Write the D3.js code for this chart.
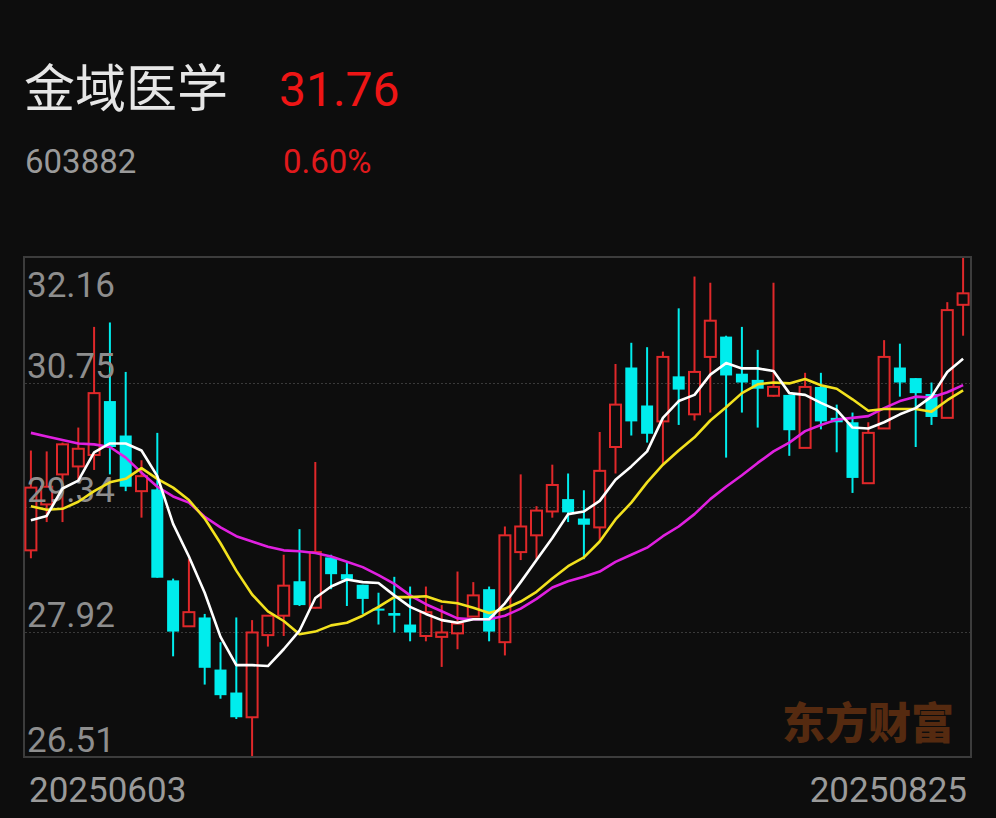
<!DOCTYPE html>
<html><head><meta charset="utf-8">
<script src="https://cdn.jsdelivr.net/npm/d3@7/dist/d3.min.js"></script>
<style>html,body{margin:0;padding:0;background:#0d0d0d;overflow:hidden}svg{display:block}</style>
</head><body>
<script>
// ---- data ----
const stockName = "金域医学";
const stockCode = "603882";
const lastPrice = "31.76";
const changePct = "0.60%";

const dates = [
  "20250603","20250604","20250605","20250606","20250609","20250610","20250611","20250612","20250613","20250616",
  "20250617","20250618","20250619","20250620","20250623","20250624","20250625","20250626","20250627","20250630",
  "20250701","20250702","20250703","20250704","20250707","20250708","20250709","20250710","20250711","20250714",
  "20250715","20250716","20250717","20250718","20250721","20250722","20250723","20250724","20250725","20250728",
  "20250729","20250730","20250731","20250801","20250804","20250805","20250806","20250807","20250808","20250811",
  "20250812","20250813","20250814","20250815","20250818","20250819","20250820","20250821","20250822","20250825"
];
const open = [
  28.85,29.37,29.71,29.80,29.93,30.54,30.15,29.52,29.54,28.51,
  27.99,28.09,27.50,27.24,26.96,27.89,28.11,28.50,28.20,28.77,
  28.58,28.46,28.19,28.14,28.01,27.88,27.87,27.91,28.10,28.41,
  27.81,28.83,29.02,29.29,29.43,29.21,29.11,30.02,30.92,30.49,
  30.31,30.82,30.39,31.04,31.27,30.85,30.78,30.60,30.61,30.01,
  30.70,30.35,30.30,29.61,30.23,30.92,30.80,30.62,30.35,31.63
];
const close = [
  29.56,29.57,30.05,30.00,30.63,30.02,29.57,29.69,28.54,27.93,
  28.15,27.52,27.21,26.96,27.92,28.11,28.45,28.23,28.83,28.58,
  28.52,28.30,28.17,28.11,27.92,28.15,27.92,28.02,28.34,27.93,
  29.02,29.12,29.30,29.59,29.28,29.14,29.75,30.50,30.31,30.17,
  31.04,30.67,30.87,31.45,30.83,30.75,30.68,30.70,30.21,30.70,
  30.31,30.30,29.67,30.18,31.04,30.75,30.63,30.36,31.57,31.76
];
const high = [
  29.98,29.97,30.07,30.24,31.38,31.43,30.87,29.87,30.18,28.53,
  28.75,28.13,27.81,28.09,28.06,28.11,28.80,29.09,29.85,28.80,
  28.71,28.46,28.37,28.55,28.44,28.44,28.23,28.61,28.49,28.44,
  29.12,29.71,29.35,29.82,29.72,29.53,30.19,30.96,31.20,31.15,
  31.10,31.59,31.95,31.88,31.28,31.38,31.12,31.88,30.61,30.86,
  30.86,30.50,30.41,30.30,31.23,31.19,30.80,30.75,31.66,32.16
];
const low = [
  28.76,29.17,29.17,29.62,29.76,29.71,29.52,29.22,28.54,27.65,
  27.99,27.33,27.17,26.94,26.52,27.76,27.88,28.22,28.19,28.41,
  28.22,28.13,28.01,27.92,27.82,27.82,27.53,27.73,28.10,27.82,
  27.66,28.74,28.75,29.22,29.17,28.75,28.97,29.72,30.15,30.07,
  29.82,30.27,30.32,30.41,29.90,30.41,30.24,30.59,29.92,30.01,
  30.22,29.96,29.50,29.61,30.23,30.59,30.02,30.27,30.35,31.28
];
const ma5 = [
  29.19,29.24,29.55,29.64,29.96,30.06,30.06,29.98,29.69,29.15,
  28.78,28.37,27.87,27.55,27.55,27.54,27.73,27.94,28.31,28.44,
  28.52,28.49,28.48,28.34,28.21,28.13,28.06,28.03,28.07,28.07,
  28.25,28.49,28.74,28.99,29.26,29.29,29.41,29.65,29.80,29.97,
  30.35,30.54,30.61,30.84,30.97,30.91,30.91,30.88,30.63,30.61,
  30.52,30.44,30.24,30.23,30.30,30.39,30.46,30.59,30.87,31.02
];
const ma10 = [
  29.35,29.31,29.32,29.40,29.52,29.62,29.66,29.78,29.66,29.56,
  29.42,29.21,28.93,28.62,28.35,28.16,28.05,27.90,27.93,28.00,
  28.03,28.11,28.21,28.32,28.32,28.33,28.27,28.25,28.20,28.14,
  28.19,28.27,28.38,28.53,28.67,28.77,28.95,29.20,29.39,29.62,
  29.82,29.98,30.13,30.32,30.47,30.63,30.73,30.75,30.74,30.79,
  30.72,30.68,30.56,30.43,30.45,30.45,30.45,30.42,30.55,30.66
];
const ma20 = [
  30.18,30.14,30.10,30.06,30.05,30.02,29.90,29.73,29.57,29.46,
  29.39,29.23,29.11,29.01,28.95,28.89,28.85,28.84,28.82,28.78,
  28.72,28.66,28.57,28.47,28.34,28.24,28.16,28.08,28.07,28.07,
  28.11,28.19,28.30,28.43,28.50,28.55,28.61,28.72,28.80,28.88,
  29.01,29.12,29.26,29.43,29.57,29.70,29.84,29.97,30.07,30.20,
  30.27,30.33,30.35,30.37,30.46,30.54,30.59,30.58,30.64,30.72
];
const yTickLabels = ["32.16","30.75","29.34","27.92","26.51"];
const yMax = 32.16, yMin = 26.51;

// ---- drawing ----
const W = 996, H = 818;
const plot = {left: 25, right: 970, top: 258, bottom: 757};
const RED = "#e0282a", CYAN = "#00eded";

const svg = d3.select("body").append("svg").attr("width", W).attr("height", H);
svg.append("rect").attr("width", W).attr("height", H).attr("fill", "#0d0d0d");

// header
svg.append("text").attr("x", 24).attr("y", 107).text(stockName)
  .attr("fill", "#e6e6e6").attr("font-size", 51).attr("font-family", "'Noto Sans CJK SC', sans-serif");
svg.append("text").attr("x", 279).attr("y", 106).text(lastPrice)
  .attr("fill", "#ee1515").attr("font-size", 48).attr("font-family", "Roboto, sans-serif");
svg.append("text").attr("x", 25).attr("y", 173).text(stockCode)
  .attr("fill", "#9a9a9a").attr("font-size", 33).attr("font-family", "Roboto, sans-serif");
svg.append("text").attr("x", 283).attr("y", 173).text(changePct)
  .attr("fill", "#e0191c").attr("font-size", 33).attr("font-family", "Roboto, sans-serif");

const x = d3.scaleBand().domain(dates).range([23, 971]).padding(0);
const cx = d => x(d) + x.bandwidth() / 2;
const y = d3.scaleLinear().domain([yMin, yMax]).range([plot.bottom, plot.top]);

// gridlines
const tickVals = yTickLabels.map(Number);
const gridY = tickVals.slice(1, -1);
svg.append("g").selectAll("line").data(gridY).join("line")
  .attr("x1", plot.left).attr("x2", plot.right)
  .attr("y1", d => Math.round(y(d)) + 0.5).attr("y2", d => Math.round(y(d)) + 0.5)
  .attr("stroke", "#3a3a3a").attr("stroke-width", 1).attr("stroke-dasharray", "2,2");

// watermark
svg.append("text").attr("x", 782).attr("y", 739).text("东方财富")
  .attr("fill", "#552a10").attr("font-size", 43).attr("font-weight", 900)
  .attr("font-family", "'Noto Sans CJK SC', sans-serif");

// frame
svg.append("rect").attr("x", plot.left - 1).attr("y", plot.top - 1)
  .attr("width", plot.right - plot.left + 2).attr("height", plot.bottom - plot.top + 1)
  .attr("fill", "none").attr("stroke", "#3c3c3c").attr("stroke-width", 2);

// candles
const data = dates.map((d, i) => ({d, o: open[i], c: close[i], h: high[i], l: low[i]}));
const bw = 11;
const cg = svg.append("g");
data.forEach(k => {
  const xc = cx(k.d);
  const up = k.c >= k.o;
  const top = y(Math.max(k.o, k.c)), bot = y(Math.min(k.o, k.c));
  if (up) {
    cg.append("line").attr("x1", xc).attr("x2", xc).attr("y1", y(k.h)).attr("y2", top)
      .attr("stroke", RED).attr("stroke-width", 2);
    cg.append("line").attr("x1", xc).attr("x2", xc).attr("y1", bot).attr("y2", y(k.l))
      .attr("stroke", RED).attr("stroke-width", 2);
    cg.append("rect").attr("x", xc - bw / 2).attr("y", top).attr("width", bw)
      .attr("height", Math.max(bot - top, 1)).attr("fill", "none")
      .attr("stroke", RED).attr("stroke-width", 2);
  } else {
    cg.append("line").attr("x1", xc).attr("x2", xc).attr("y1", y(k.h)).attr("y2", y(k.l))
      .attr("stroke", CYAN).attr("stroke-width", 2);
    cg.append("rect").attr("x", xc - bw / 2 - 0.5).attr("y", top).attr("width", bw + 1)
      .attr("height", Math.max(bot - top, 2)).attr("fill", CYAN);
  }
});

// y labels
const lab = svg.append("g").attr("font-family", "Roboto, sans-serif").attr("font-size", 35).attr("fill", "#8e8e8e");
yTickLabels.forEach((t, i) => {
  const v = tickVals[i];
  const yy = i === 0 ? y(v) + 39 : y(v) - 5;
  lab.append("text").attr("x", 27).attr("y", yy).text(t);
});

// MA lines
const line = arr => d3.line().x((v, i) => cx(dates[i])).y(v => y(v))(arr);
[[ma20, "#e020e0"], [ma10, "#f2e11e"], [ma5, "#ffffff"]].forEach(([arr, col]) => {
  svg.append("path").attr("d", line(arr)).attr("fill", "none")
    .attr("stroke", col).attr("stroke-width", 2.6).attr("stroke-linejoin", "round");
});

// x labels
svg.append("text").attr("x", 29).attr("y", 802).text(dates[0])
  .attr("fill", "#9a9a9a").attr("font-size", 35).attr("font-family", "Roboto, sans-serif");
svg.append("text").attr("x", 967).attr("y", 802).attr("text-anchor", "end").text(dates[dates.length - 1])
  .attr("fill", "#9a9a9a").attr("font-size", 35).attr("font-family", "Roboto, sans-serif");
</script>
</body></html>
